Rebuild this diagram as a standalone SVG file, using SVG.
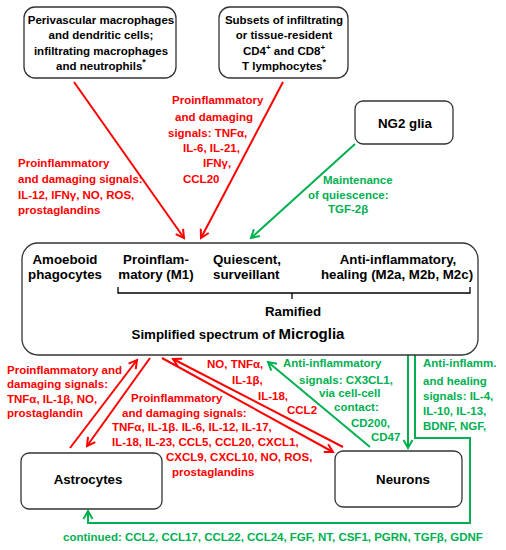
<svg xmlns="http://www.w3.org/2000/svg" width="506" height="550" viewBox="0 0 506 550">
<style>
text{font-family:"Liberation Sans",Arial,sans-serif;font-weight:bold}
.box{fill:#fff;stroke:#333;stroke-width:1.3}
.bt{font-size:11.5px;fill:#000}
.nt{font-size:13.3px;fill:#000}
.r{font-size:11.5px;fill:#ff0000}
.g{font-size:11.5px;fill:#00b050}
.ra{stroke:#ff0000;stroke-width:2;fill:none}
.ga{stroke:#00b050;stroke-width:2;fill:none}
</style>
<defs>
<marker id="hr" markerUnits="userSpaceOnUse" markerWidth="12" markerHeight="12" refX="9" refY="5" orient="auto" viewBox="0 0 12 10">
<path d="M1,0.5 L9,5 L1,9.5" fill="none" stroke="#ff0000" stroke-width="2"/>
</marker>
<marker id="hg" markerUnits="userSpaceOnUse" markerWidth="12" markerHeight="12" refX="9" refY="5" orient="auto" viewBox="0 0 12 10">
<path d="M1,0.5 L9,5 L1,9.5" fill="none" stroke="#00b050" stroke-width="2"/>
</marker>
</defs>

<g id="connectors">
<line class="ra" x1="74" y1="82" x2="184" y2="238" marker-end="url(#hr)"/>
<line class="ra" x1="283" y1="82" x2="201" y2="238" marker-end="url(#hr)"/>
<line class="ga" x1="355" y1="144" x2="251" y2="238" marker-end="url(#hg)"/>
<line class="ra" x1="70" y1="448" x2="137" y2="360" marker-end="url(#hr)"/>
<line class="ra" x1="150" y1="358" x2="87" y2="446" marker-end="url(#hr)"/>
<line class="ra" x1="162" y1="358" x2="333" y2="452" marker-end="url(#hr)"/>
<line class="ra" x1="343" y1="447" x2="173" y2="359" marker-end="url(#hr)"/>
<line class="ga" x1="370" y1="447" x2="268" y2="362" marker-end="url(#hg)"/>
<line class="ga" x1="408" y1="355" x2="408" y2="448" marker-end="url(#hg)"/>
<polyline class="ga" points="415,355 415,438 470,438 470,523 88,523 88,511" marker-end="url(#hg)"/>
</g>

<g id="perivascular">
<rect class="box" x="24" y="7" width="152" height="71" rx="11"/>
<text class="bt" text-anchor="middle" x="101" y="24">Perivascular macrophages</text>
<text class="bt" text-anchor="middle" x="101" y="39">and dendritic cells;</text>
<text class="bt" text-anchor="middle" x="101" y="55">infiltrating macrophages</text>
<text class="bt" text-anchor="middle" x="101" y="70">and neutrophils<tspan dy="-5" font-size="9">*</tspan></text>
</g>

<g id="tcells">
<rect class="box" x="219" y="7" width="129" height="71" rx="11"/>
<text class="bt" text-anchor="middle" x="284" y="24">Subsets of infiltrating</text>
<text class="bt" text-anchor="middle" x="284" y="39">or tissue-resident</text>
<text class="bt" text-anchor="middle" x="284" y="55">CD4<tspan dy="-5" font-size="8">+</tspan><tspan dy="5"> and CD8</tspan><tspan dy="-5" font-size="8">+</tspan></text>
<text class="bt" text-anchor="middle" x="284" y="70">T lymphocytes<tspan dy="-5" font-size="9">*</tspan></text>
</g>

<g id="ng2">
<rect class="box" x="355" y="101" width="98" height="43" rx="8"/>
<text class="nt" text-anchor="middle" x="405" y="128">NG2 glia</text>
</g>

<g id="microglia">
<rect class="box" x="22" y="243" width="456" height="112" rx="16"/>
<text class="nt" text-anchor="middle" x="65" y="264">Amoeboid</text>
<text class="nt" text-anchor="middle" x="65" y="279">phagocytes</text>
<text class="nt" text-anchor="middle" x="156" y="264">Proinflam-</text>
<text class="nt" text-anchor="middle" x="156" y="279">matory (M1)</text>
<text class="nt" x="213" y="264">Quiescent,</text>
<text class="nt" x="213" y="279">surveillant</text>
<text class="nt" text-anchor="middle" x="398" y="264">Anti-inflammatory,</text>
<text class="nt" text-anchor="middle" x="397" y="279">healing (M2a, M2b, M2c)</text>
<path d="M118,287 L118,293 L470,293 L470,287 M292,293 L292,299" fill="none" stroke="#000" stroke-width="1.3"/>
<text class="nt" text-anchor="middle" x="293" y="316">Ramified</text>
<text class="nt" text-anchor="middle" x="238" y="339">Simplified spectrum of <tspan font-size="15px">Microglia</tspan></text>
</g>

<g id="astrocytes">
<rect class="box" x="21" y="453" width="141" height="56" rx="8"/>
<text class="nt" text-anchor="middle" x="88" y="484">Astrocytes</text>
</g>

<g id="neurons">
<rect class="box" x="335" y="451" width="127" height="56" rx="8"/>
<text class="nt" text-anchor="middle" x="403" y="484">Neurons</text>
</g>

<g id="labels">
<text class="r" x="18" y="167">Proinflammatory</text>
<text class="r" x="18" y="183">and damaging signals:</text>
<text class="r" x="18" y="199">IL-12, IFNγ, NO, ROS,</text>
<text class="r" x="18" y="214">prostaglandins</text>

<text class="r" x="172" y="104">Proinflammatory</text>
<text class="r" x="175" y="121">and damaging</text>
<text class="r" x="168" y="137">signals: TNFα,</text>
<text class="r" x="183" y="152">IL-6, IL-21,</text>
<text class="r" x="203" y="167">IFNγ,</text>
<text class="r" x="183" y="183">CCL20</text>

<text class="g" x="323" y="184">Maintenance</text>
<text class="g" x="308" y="199">of quiescence:</text>
<text class="g" x="328" y="213">TGF-2β</text>

<text class="r" x="7" y="374">Proinflammatory and</text>
<text class="r" x="7" y="388">damaging signals:</text>
<text class="r" x="7" y="403">TNFα, IL-1β, NO,</text>
<text class="r" x="7" y="417">prostaglandin</text>

<text class="r" x="131" y="402">Proinflammatory</text>
<text class="r" x="122" y="417">and damaging signals:</text>
<text class="r" x="112" y="431">TNFα, IL-1β. IL-6, IL-12, IL-17,</text>
<text class="r" x="112" y="446">IL-18, IL-23, CCL5, CCL20, CXCL1,</text>
<text class="r" x="166" y="461">CXCL9, CXCL10, NO, ROS,</text>
<text class="r" x="172" y="476">prostaglandins</text>

<text class="r" x="207" y="368">NO, TNFα,</text>
<text class="r" x="232" y="384">IL-1β,</text>
<text class="r" x="258" y="400">IL-18,</text>
<text class="r" x="287" y="414">CCL2</text>

<text class="g" x="283" y="367">Anti-inflammatory</text>
<text class="g" x="299" y="384">signals: CX3CL1,</text>
<text class="g" x="319" y="397">via cell-cell</text>
<text class="g" x="334" y="411">contact:</text>
<text class="g" x="351" y="427">CD200,</text>
<text class="g" x="371" y="441">CD47</text>

<text class="g" x="423" y="367">Anti-inflamm.</text>
<text class="g" x="423" y="385">and healing</text>
<text class="g" x="423" y="400">signals: IL-4,</text>
<text class="g" x="423" y="415">IL-10, IL-13,</text>
<text class="g" x="423" y="430">BDNF, NGF,</text>

<text class="g" x="63" y="541">continued: CCL2, CCL17, CCL22, CCL24, FGF, NT, CSF1, PGRN, TGFβ, GDNF</text>
</g>
</svg>
